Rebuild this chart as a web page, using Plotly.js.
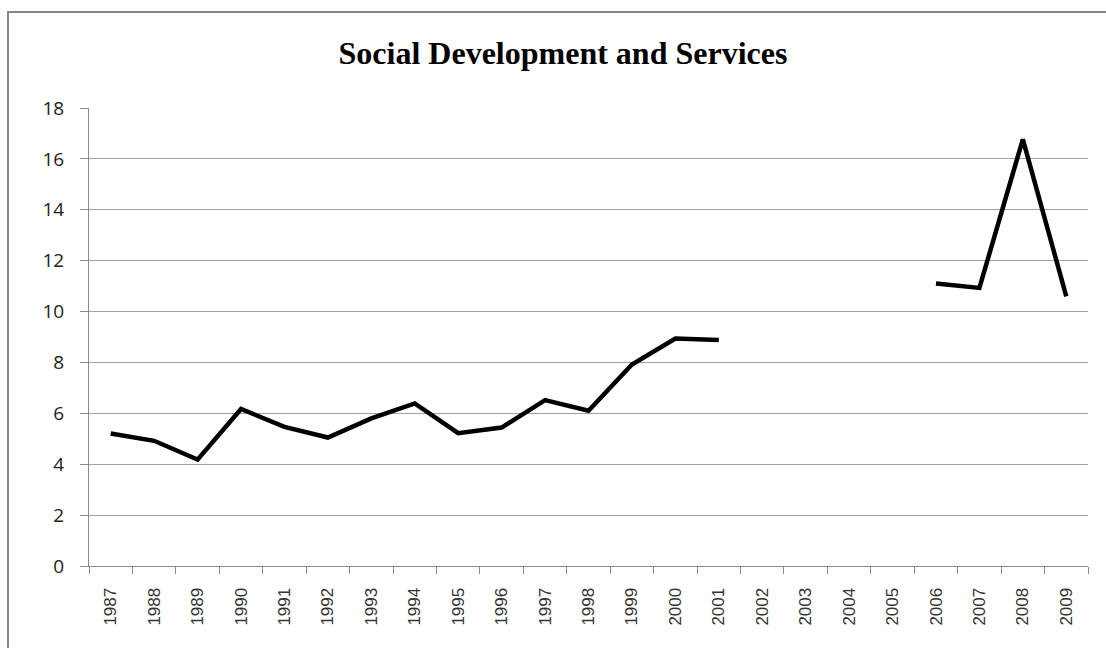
<!DOCTYPE html>
<html>
<head>
<meta charset="utf-8">
<script src="https://cdn.plot.ly/plotly-3.0.1.min.js"></script>
<style>
body{margin:0;padding:0;background:#fff;overflow:hidden;}
#wrap{position:relative;width:1106px;height:648px;overflow:hidden;}
#chart{width:1106px;height:648px;}
#frame{position:absolute;left:7px;top:11px;width:1099px;height:637px;border-left:2px solid #868686;border-top:2px solid #868686;box-sizing:border-box;pointer-events:none;}
</style>
</head>
<body>
<div id="wrap"><div id="chart"></div><div id="frame"></div></div>
<script>
var years = ["1987","1988","1989","1990","1991","1992","1993","1994","1995","1996","1997","1998","1999","2000","2001","2002","2003","2004","2005","2006","2007","2008","2009"];
var values = [5.21,4.92,4.18,6.17,5.47,5.05,5.8,6.39,5.22,5.44,6.52,6.1,7.92,8.94,8.88,null,null,null,null,11.1,10.93,16.77,10.6];
var yTicks = [0,2,4,6,8,10,12,14,16,18];
var chartTitle = "Social Development and Services";

Plotly.newPlot("chart", [{
  x: years, y: values, type: "scatter", mode: "lines",
  connectgaps: false,
  line: {color: "#000000", width: 4.5}
}], {
  width: 1106, height: 648,
  margin: {l: 89, r: 18, t: 108, b: 82},
  paper_bgcolor: "#ffffff", plot_bgcolor: "#ffffff",
  showlegend: false,
  title: {text: "<b>" + chartTitle + "</b>", x: 0.509, xanchor: "center", y: 0.918, yanchor: "middle",
          font: {family: "Liberation Serif, Times New Roman, serif", size: 32, color: "#000"}},
  xaxis: {
    type: "category", tickson: "boundaries", ticks: "outside", ticklen: 7, tickcolor: "#8a8a8a",
    showline: true, linecolor: "#8a8a8a", linewidth: 1, showgrid: false, zeroline: false,
    tickangle: -90, ticklabelstandoff: 14,
    tickfont: {family: "Liberation Sans, Arial, sans-serif", size: 17, color: "#333"},
    range: [-0.5, 22.5], fixedrange: true
  },
  yaxis: {
    range: [0, 18], tickvals: yTicks, ticktext: yTicks.map(String),
    ticks: "outside", ticklen: 8, tickcolor: "#8a8a8a", ticklabelstandoff: 12,
    showline: true, linecolor: "#8a8a8a", linewidth: 1,
    showgrid: true, gridcolor: "#a0a0a0", gridwidth: 1, zeroline: false,
    tickfont: {family: "Open Sans, Liberation Sans, sans-serif", size: 19, color: "#222"},
    fixedrange: true
  }
}, {displayModeBar: false, staticPlot: true});
</script>
</body>
</html>
